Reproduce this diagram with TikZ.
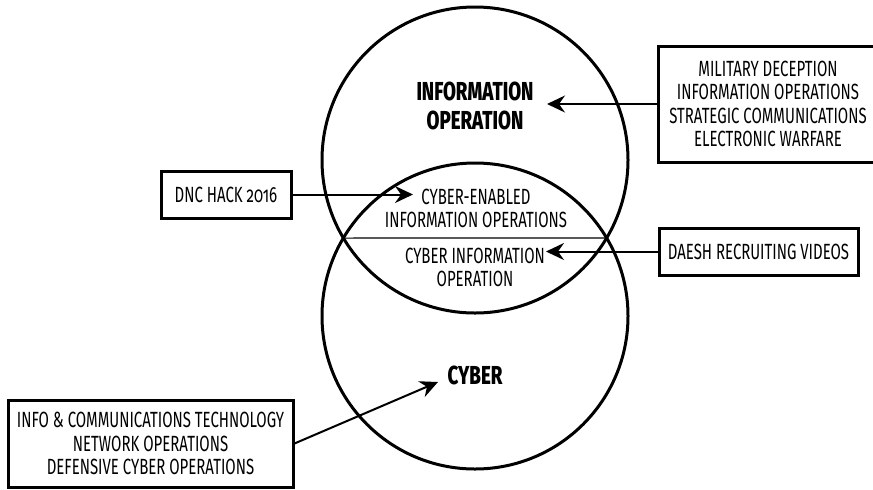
\documentclass[tikz,border=0pt]{standalone}
\usepackage{fontspec}
\setmainfont{Fira Sans}[FakeStretch=0.68,BoldFont={Fira Sans ExtraBold},BoldFeatures={FakeStretch=0.72}]
\usepackage{tikz}
\usetikzlibrary{arrows.meta,intersections}
\tikzset{
  box/.style={draw,line width=1.5pt,align=center,font=\fontsize{11}{11.7}\selectfont,inner sep=0pt},
  lbl/.style={align=center,font=\fontsize{11}{11.5}\selectfont,inner sep=0pt},
  hd/.style={align=center,font=\fontsize{13}{14.5}\selectfont\bfseries,inner sep=0pt},
  ring/.style={line width=1.5pt},
  arr/.style={-{Stealth[length=9pt,width=8.5pt,inset=3pt]},line width=1pt},
}
\begin{document}
\begin{tikzpicture}[x=0.5pt,y=-0.5pt]
\clip (0,0) rectangle (873,489);
% the two sets and their overlap
\draw[ring,name path=topc] (475,160) circle[radius=153];
\draw[ring,name path=botc] (475,316) circle[radius=153];
\path[name intersections={of=topc and botc,by={chA,chB}}];
\draw[line width=0.6pt] (chA) -- (chB);
\node[hd] (ioLbl) at (475,106) {INFORMATION\\OPERATION};
\node[lbl] (ceLbl) at (476,208) {CYBER-ENABLED\\INFORMATION OPERATIONS};
\node[lbl] (ciLbl) at (475,267) {CYBER INFORMATION\\OPERATION};
\node[hd] (cyLbl) at (475,375) {CYBER};
% examples
\node[box,minimum width=110pt,minimum height=58pt] (mil) at (768,104) {MILITARY DECEPTION\\INFORMATION OPERATIONS\\STRATEGIC COMMUNICATIONS\\ELECTRONIC WARFARE};
\node[box,minimum width=65pt,minimum height=23.5pt] (dnc) at (226,194.5) {DNC HACK {\addfontfeatures{Numbers=OldStyle}2016}};
\node[box,minimum width=99.5pt,minimum height=23.5pt] (daesh) at (758.5,251.5) {DAESH RECRUITING VIDEOS};
\node[box,minimum width=142.5pt,minimum height=43.5pt] (ict) at (150.5,443.5) {INFO \& COMMUNICATIONS TECHNOLOGY\\NETWORK OPERATIONS\\DEFENSIVE CYBER OPERATIONS};
\coordinate (ioTip) at (547,104);
\coordinate (ceTip) at (413,194.5);
\coordinate (ciTip) at (546,251.5);
\coordinate (cyTip) at (438,382);
\draw[arr] (mil.west) -- (ioTip);
\draw[arr] (dnc.east) -- (ceTip);
\draw[arr] (daesh.west) -- (ciTip);
\draw[arr] (ict.east) -- (cyTip);
\end{tikzpicture}
\end{document}
